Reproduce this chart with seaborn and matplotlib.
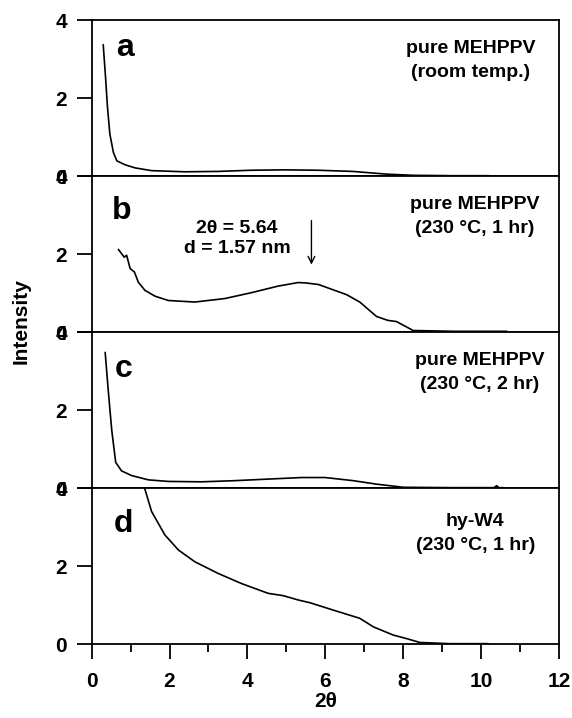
import matplotlib
matplotlib.use("Agg")
import matplotlib.pyplot as plt
from matplotlib.ticker import MultipleLocator
import seaborn as sns
import pandas as pd

# ---- XRD intensity traces, one per sample (2-theta in degrees, intensity in a.u.) ----
a_2theta = [0.30, 0.36, 0.41, 0.47, 0.56, 0.65, 0.86, 1.12, 1.54, 2.40, 3.25, 4.10, 4.96,
            5.80, 6.70, 7.57, 8.25, 9.27, 10.20]
a_int = [3.37, 2.53, 1.76, 1.08, 0.61, 0.39, 0.29, 0.21, 0.14, 0.11, 0.12, 0.15, 0.16,
         0.15, 0.12, 0.05, 0.02, 0.01, 0.01]

b_2theta = [0.69, 0.77, 0.84, 0.90, 0.99, 1.10, 1.20, 1.37, 1.63, 1.97, 2.65, 3.42, 4.10,
            4.79, 5.30, 5.50, 5.82, 6.54, 6.88, 7.31, 7.60, 7.82, 8.25, 9.28, 10.65]
b_int = [2.12, 2.01, 1.92, 1.97, 1.63, 1.54, 1.28, 1.07, 0.92, 0.81, 0.77, 0.86, 1.01,
         1.18, 1.27, 1.26, 1.22, 0.96, 0.77, 0.40, 0.30, 0.27, 0.04, 0.02, 0.02]

c_2theta = [0.35, 0.43, 0.52, 0.62, 0.77, 1.03, 1.46, 1.97, 2.82, 3.68, 4.53, 5.39, 5.99,
            6.71, 7.31, 8.00, 9.28, 10.32, 10.39, 10.45, 10.56]
c_int = [3.48, 2.49, 1.47, 0.66, 0.44, 0.32, 0.21, 0.17, 0.16, 0.19, 0.23, 0.27, 0.27,
         0.19, 0.10, 0.02, 0.01, 0.01, 0.06, 0.01, 0.01]

d_2theta = [1.33, 1.37, 1.54, 1.88, 2.23, 2.65, 3.25, 3.85, 4.53, 4.92, 5.30, 5.60, 6.20,
            6.88, 7.23, 7.74, 8.08, 8.42, 9.19, 10.17]
d_int = [4.10, 3.97, 3.40, 2.80, 2.41, 2.11, 1.81, 1.55, 1.30, 1.24, 1.13, 1.06, 0.87,
         0.66, 0.44, 0.23, 0.14, 0.04, 0.01, 0.01]

panel_letters = ["a", "b", "c", "d"]
sample_labels = ["pure MEHPPV\n(room temp.)",
                 "pure MEHPPV\n(230 °C, 1 hr)",
                 "pure MEHPPV\n(230 °C, 2 hr)",
                 "hy-W4\n(230 °C, 1 hr)"]
peak_2theta = 5.64
peak_text = "2θ = 5.64\nd = 1.57 nm"

y_ticks = [0, 2, 4]
x_ticks = [0, 2, 4, 6, 8, 10, 12]

traces = [(a_2theta, a_int), (b_2theta, b_int), (c_2theta, c_int), (d_2theta, d_int)]

sns.set_theme(style="ticks")
plt.rcParams["font.family"] = ["Liberation Sans", "DejaVu Sans"]
plt.rcParams["font.weight"] = "bold"
for key in ["text.color", "axes.labelcolor", "xtick.color", "ytick.color",
            "axes.edgecolor"]:
    plt.rcParams[key] = "black"

fig, axes = plt.subplots(4, 1, figsize=(5.72, 7.18), dpi=100, sharex=True,
                         gridspec_kw={"hspace": 0})
fig.subplots_adjust(left=0.16, right=0.978, top=0.972, bottom=0.103)

letter_pos = [(0.62, 3.08), (0.52, 2.91), (0.60, 2.84), (0.58, 2.88)]
label_pos = [(9.73, 3.50), (9.82, 3.50), (9.96, 3.50), (9.84, 3.36)]

for i, (ax, (xs, ys)) in enumerate(zip(axes, traces)):
    df = pd.DataFrame({"two_theta": xs, "intensity": ys})
    sns.lineplot(data=df, x="two_theta", y="intensity", ax=ax, color="black",
                 linewidth=1.2, sort=False, estimator=None)
    ax.set_xlim(0, 12)
    ax.set_ylim(0, 4)
    ax.set_yticks(y_ticks)
    ax.set_yticklabels([str(t) for t in y_ticks], fontsize=15, fontweight="bold")
    ax.set_xlabel("")
    ax.set_ylabel("")
    for sp in ax.spines.values():
        sp.set_visible(True)
        sp.set_linewidth(1.3)
        sp.set_color("black")
    ax.tick_params(axis="y", which="major", length=11, width=1.3, pad=6.5,
                   direction="out", colors="black")
    lx, ly = letter_pos[i]
    ax.text(lx, ly, panel_letters[i], fontsize=23, fontweight="bold",
            ha="left", va="baseline")
    tx, ty = label_pos[i]
    ax.text(tx, ty, sample_labels[i], fontsize=14, fontweight="bold",
            ha="center", va="top", linespacing=1.55)

# x ticks only on the bottom panel
for ax in axes[:-1]:
    ax.tick_params(axis="x", which="both", bottom=False, labelbottom=False)

bottom = axes[-1]
bottom.set_xticks(x_ticks)
bottom.set_xticklabels([str(t) for t in x_ticks], fontsize=15, fontweight="bold")
bottom.xaxis.set_minor_locator(MultipleLocator(1))
bottom.tick_params(axis="x", which="major", length=11, width=1.3, pad=9,
                   direction="out", colors="black")
bottom.tick_params(axis="x", which="minor", length=6, width=1.3,
                   direction="out", colors="black")
bottom.set_xlabel("2θ", fontsize=15, fontweight="bold", labelpad=1)

# peak marker in panel b
axes[1].annotate("", xy=(peak_2theta, 1.73), xytext=(peak_2theta, 2.86),
                 arrowprops=dict(arrowstyle="->", color="black", lw=1.0,
                                 shrinkA=0, shrinkB=0, mutation_scale=12))
axes[1].text(3.73, 2.88, peak_text, fontsize=14, fontweight="bold",
             ha="center", va="top", linespacing=1.25)

fig.text(0.037, 0.553, "Intensity", rotation=90, fontsize=15, fontweight="bold",
         ha="center", va="center")

fig.savefig("out.png", dpi=100)
